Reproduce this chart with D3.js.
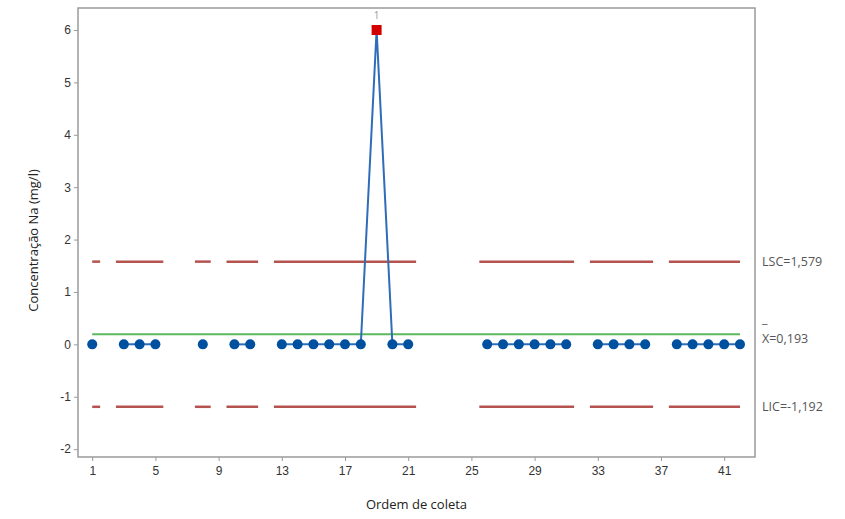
<!DOCTYPE html>
<html>
<head>
<meta charset="utf-8">
<script src="https://cdn.jsdelivr.net/npm/d3@7"></script>
<style>
  html, body { margin: 0; padding: 0; background: #fff; }
  svg { display: block; font-family: "Open Sans", "Noto Sans", sans-serif; }
</style>
</head>
<body>
<svg id="chart" width="845" height="519"></svg>
<script>
// Sample order (collection order) and Na concentration; missing samples omitted
const ordem = [1, 3, 4, 5, 8, 10, 11, 13, 14, 15, 16, 17, 18, 19, 20, 21,
               26, 27, 28, 29, 30, 31, 33, 34, 35, 36, 38, 39, 40, 41, 42];
const concentracao = [0, 0, 0, 0, 0, 0, 0, 0, 0, 0, 0, 0, 0, 6, 0, 0,
                      0, 0, 0, 0, 0, 0, 0, 0, 0, 0, 0, 0, 0, 0, 0];
// Points flagged by test 1 (beyond control limits)
const falhas = [19];

const LSC = 1.579, media = 0.193, LIC = -1.192;
const xTicks = [1, 5, 9, 13, 17, 21, 25, 29, 33, 37, 41];
const yTicks = [-2, -1, 0, 1, 2, 3, 4, 5, 6];

const svg = d3.select("#chart");
const mLeft = 78, mRight = 755, mTop = 8, mBottom = 457;

const x = d3.scaleLinear().domain([0.1, 42.95]).range([mLeft, mRight]);
const y = d3.scaleLinear().domain([-2.15, 6.42]).range([mBottom, mTop]);

// Decimal comma, plain hyphen for negatives
const fmt = v => (v < 0 ? "-" : "") + Math.abs(v).toFixed(3).replace(".", ",");

const pts = ordem.map((o, i) => ({ o, v: concentracao[i] }));

// Group consecutive samples into runs; lines and limits break at gaps
const runs = [];
pts.forEach((p, i) => {
  if (i === 0 || p.o !== pts[i - 1].o + 1) runs.push([]);
  runs[runs.length - 1].push(p);
});

const xMin = ordem[0], xMax = ordem[ordem.length - 1];

// Frame
svg.append("rect")
  .attr("x", mLeft).attr("y", mTop)
  .attr("width", mRight - mLeft).attr("height", mBottom - mTop)
  .attr("fill", "none").attr("stroke", "#9a9a9a").attr("stroke-width", 1.5);

// Axes
const gx = svg.append("g").attr("transform", `translate(0,${mBottom})`)
  .call(d3.axisBottom(x).tickValues(xTicks).tickSize(4).tickPadding(5).tickFormat(d3.format("d")));
const gy = svg.append("g").attr("transform", `translate(${mLeft},0)`)
  .call(d3.axisLeft(y).tickValues(yTicks).tickSize(4).tickPadding(3).tickFormat(d => d < 0 ? "-" + Math.abs(d) : d));
[gx, gy].forEach(g => {
  g.select(".domain").remove();
  g.selectAll(".tick line").attr("stroke", "#9a9a9a");
  g.selectAll(".tick text").attr("fill", "#333").attr("font-size", 12);
});

// Control limits, drawn per sample over [i-0.5, i+0.5]
const limSeg = (run) => [Math.max(xMin, run[0].o - 0.5), Math.min(xMax, run[run.length - 1].o + 0.5)];
[LSC, LIC].forEach(lim => {
  svg.append("g").selectAll("line").data(runs).join("line")
    .attr("x1", r => x(limSeg(r)[0])).attr("x2", r => x(limSeg(r)[1]))
    .attr("y1", y(lim)).attr("y2", y(lim))
    .attr("stroke", "#b5534f").attr("stroke-width", 2.5);
});

// Center line
svg.append("line")
  .attr("x1", x(xMin)).attr("x2", x(xMax))
  .attr("y1", y(media)).attr("y2", y(media))
  .attr("stroke", "#5cb85c").attr("stroke-width", 2);

// Data line per run
const line = d3.line().x(d => x(d.o)).y(d => y(d.v));
svg.append("g").selectAll("path").data(runs.filter(r => r.length > 1)).join("path")
  .attr("d", line).attr("fill", "none")
  .attr("stroke", "#2f6db8").attr("stroke-width", 2);

// Points
const normais = pts.filter(p => !falhas.includes(p.o));
const flag = pts.filter(p => falhas.includes(p.o));
svg.append("g").selectAll("circle").data(normais).join("circle")
  .attr("cx", d => x(d.o)).attr("cy", d => y(d.v)).attr("r", 5)
  .attr("fill", "#0050a0");
svg.append("g").selectAll("rect").data(flag).join("rect")
  .attr("x", d => x(d.o) - 5).attr("y", d => y(d.v) - 5)
  .attr("width", 10).attr("height", 10).attr("fill", "#d40000");
svg.append("g").selectAll("text").data(flag).join("text")
  .attr("x", d => x(d.o)).attr("y", d => y(d.v) - 11)
  .attr("text-anchor", "middle").attr("font-size", 10).attr("fill", "#999")
  .text("1");

// Limit labels
const lab = svg.append("g").attr("font-size", 12.5).attr("fill", "#555");
lab.append("text").attr("x", 762).attr("y", y(LSC) + 4).text("LSC=" + fmt(LSC));
lab.append("text").attr("x", 762).attr("y", y(media) + 9).text("X=" + fmt(media));
lab.append("text").attr("x", 762).attr("y", y(media) - 11).text("_");
lab.append("text").attr("x", 762).attr("y", y(LIC) + 4).text("LIC=" + fmt(LIC));

// Axis titles
svg.append("text").attr("x", (mLeft + mRight) / 2).attr("y", 509)
  .attr("text-anchor", "middle").attr("font-size", 13).attr("fill", "#222")
  .text("Ordem de coleta");
svg.append("text")
  .attr("transform", `translate(38,${(mTop + mBottom) / 2 + 8}) rotate(-90)`)
  .attr("text-anchor", "middle").attr("font-size", 13).attr("fill", "#222")
  .text("Concentração Na (mg/l)");
</script>
</body>
</html>
